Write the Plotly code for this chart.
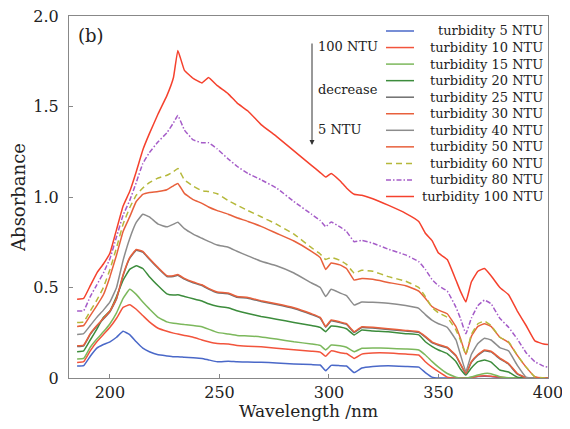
import plotly.graph_objects as go

wavelength = [185, 188, 191, 194, 197, 200, 203, 206, 209, 212, 215, 218, 222, 226, 229, 231,
              234, 238, 242, 245, 249, 254, 258, 263, 269, 276, 284, 292, 296, 298.5, 301, 305,
              308, 311.5, 315, 320, 327, 335, 341, 344, 347, 350, 354, 358, 360, 362.5, 365, 368,
              371, 374, 378, 382, 386, 390, 394, 398, 400]

ntu5 = [0.066, 0.068, 0.12, 0.165, 0.185, 0.20, 0.225, 0.258, 0.24, 0.20, 0.165, 0.145, 0.128, 0.122, 0.118, 0.118,
        0.115, 0.112, 0.108, 0.10, 0.09, 0.093, 0.09, 0.088, 0.087, 0.083, 0.078, 0.074, 0.072, 0.04, 0.07, 0.068,
        0.066, 0.03, 0.055, 0.064, 0.068, 0.064, 0.06, 0.03, 0.005, 0.0, 0.0, 0.0, 0.0, 0.0, 0.003, 0.008,
        0.01, 0.008, 0.002, 0.0, 0.0, 0.0, 0.0, 0.0, 0.0]
ntu10 = [0.085, 0.09, 0.15, 0.20, 0.24, 0.28, 0.33, 0.39, 0.405, 0.38, 0.345, 0.31, 0.275, 0.258, 0.248, 0.243,
         0.235, 0.225, 0.21, 0.20, 0.19, 0.188, 0.18, 0.176, 0.172, 0.165, 0.156, 0.148, 0.143, 0.12, 0.15, 0.14,
         0.135, 0.108, 0.132, 0.138, 0.138, 0.132, 0.127, 0.09, 0.06, 0.035, 0.005, 0.0, 0.0, 0.0, 0.003, 0.01,
         0.012, 0.01, 0.005, 0.0, 0.0, 0.0, 0.0, 0.0, 0.0]
ntu15 = [0.105, 0.108, 0.17, 0.215, 0.255, 0.30, 0.36, 0.44, 0.49, 0.462, 0.42, 0.382, 0.335, 0.31, 0.302, 0.30,
         0.295, 0.29, 0.283, 0.27, 0.252, 0.243, 0.235, 0.232, 0.227, 0.215, 0.20, 0.188, 0.18, 0.155, 0.182, 0.178,
         0.17, 0.145, 0.164, 0.166, 0.164, 0.16, 0.155, 0.127, 0.092, 0.06, 0.025, 0.005, 0.0, 0.0, 0.006, 0.017,
         0.025, 0.024, 0.007, 0.002, 0.0, 0.0, 0.0, 0.0, 0.0]
ntu20 = [0.145, 0.15, 0.21, 0.27, 0.335, 0.37, 0.45, 0.54, 0.60, 0.62, 0.605, 0.56, 0.51, 0.465, 0.458, 0.46,
         0.45, 0.438, 0.425, 0.41, 0.396, 0.388, 0.372, 0.356, 0.34, 0.325, 0.307, 0.29, 0.28, 0.256, 0.287, 0.282,
         0.272, 0.238, 0.265, 0.26, 0.256, 0.245, 0.238, 0.20, 0.175, 0.155, 0.135, 0.09, 0.05, 0.017, 0.055, 0.09,
         0.10, 0.088, 0.044, 0.033, 0.005, 0.0, 0.0, 0.0, 0.0]
ntu25 = [0.174, 0.178, 0.241, 0.286, 0.326, 0.366, 0.436, 0.566, 0.661, 0.706, 0.696, 0.656, 0.606, 0.561, 0.561, 0.568,
         0.546, 0.526, 0.511, 0.491, 0.471, 0.466, 0.446, 0.441, 0.423, 0.406, 0.384, 0.351, 0.331, 0.281, 0.316, 0.306,
         0.296, 0.252, 0.279, 0.276, 0.268, 0.259, 0.252, 0.226, 0.196, 0.181, 0.166, 0.121, 0.076, 0.022, 0.086, 0.126,
         0.151, 0.144, 0.106, 0.076, 0.021, 0.0, 0.0, 0.0, 0.0]
ntu30 = [0.178, 0.182, 0.245, 0.29, 0.33, 0.37, 0.44, 0.57, 0.665, 0.71, 0.70, 0.66, 0.61, 0.565, 0.565, 0.572,
         0.55, 0.53, 0.515, 0.495, 0.475, 0.47, 0.45, 0.445, 0.427, 0.41, 0.388, 0.355, 0.335, 0.285, 0.32, 0.31,
         0.30, 0.256, 0.283, 0.28, 0.272, 0.263, 0.256, 0.23, 0.20, 0.185, 0.17, 0.125, 0.08, 0.026, 0.09, 0.13,
         0.155, 0.148, 0.11, 0.08, 0.025, 0.002, 0.0, 0.0, 0.0]
ntu40 = [0.241, 0.245, 0.29, 0.335, 0.375, 0.42, 0.50, 0.65, 0.77, 0.86, 0.905, 0.89, 0.85, 0.835, 0.85, 0.86,
         0.825, 0.795, 0.772, 0.755, 0.735, 0.722, 0.70, 0.675, 0.645, 0.62, 0.58, 0.525, 0.50, 0.45, 0.49, 0.47,
         0.455, 0.403, 0.42, 0.418, 0.413, 0.40, 0.385, 0.35, 0.32, 0.30, 0.28, 0.21, 0.13, 0.035, 0.13, 0.19,
         0.22, 0.21, 0.168, 0.15, 0.07, 0.005, 0.0, 0.0, 0.0]
ntu50 = [0.285, 0.29, 0.345, 0.40, 0.46, 0.56, 0.68, 0.81, 0.89, 0.975, 1.015, 1.025, 1.03, 1.04, 1.062, 1.075,
         1.02, 0.985, 0.965, 0.945, 0.925, 0.905, 0.885, 0.865, 0.838, 0.80, 0.757, 0.70, 0.665, 0.60, 0.635, 0.625,
         0.605, 0.541, 0.55, 0.545, 0.528, 0.51, 0.48, 0.44, 0.395, 0.375, 0.355, 0.283, 0.22, 0.13, 0.23, 0.285,
         0.30, 0.285, 0.225, 0.196, 0.125, 0.06, 0.007, 0.0, 0.0]
ntu60 = [0.306, 0.31, 0.37, 0.43, 0.50, 0.60, 0.72, 0.85, 0.94, 1.01, 1.05, 1.08, 1.105, 1.12, 1.14, 1.158,
         1.095, 1.06, 1.035, 1.03, 1.018, 0.98, 0.955, 0.925, 0.891, 0.85, 0.795, 0.72, 0.685, 0.655, 0.666, 0.65,
         0.628, 0.58, 0.595, 0.59, 0.56, 0.535, 0.50, 0.45, 0.39, 0.36, 0.335, 0.265, 0.21, 0.13, 0.24, 0.30,
         0.315, 0.29, 0.225, 0.20, 0.125, 0.06, 0.007, 0.0, 0.0]
ntu80 = [0.37, 0.372, 0.45, 0.515, 0.58, 0.66, 0.78, 0.90, 0.98, 1.08, 1.185, 1.245, 1.305, 1.355, 1.41, 1.45,
         1.37, 1.315, 1.30, 1.30, 1.265, 1.21, 1.17, 1.13, 1.095, 1.05, 0.975, 0.905, 0.87, 0.836, 0.862, 0.835,
         0.81, 0.753, 0.76, 0.745, 0.712, 0.68, 0.643, 0.60, 0.545, 0.51, 0.48, 0.39, 0.33, 0.245, 0.33, 0.40,
         0.43, 0.41, 0.33, 0.28, 0.215, 0.14, 0.09, 0.065, 0.06]
ntu100 = [0.435, 0.44, 0.51, 0.58, 0.63, 0.69, 0.82, 0.95, 1.03, 1.14, 1.26, 1.35, 1.46, 1.56, 1.66, 1.81,
          1.70, 1.655, 1.63, 1.66, 1.615, 1.57, 1.52, 1.475, 1.40, 1.335, 1.255, 1.175, 1.135, 1.11, 1.13, 1.09,
          1.05, 1.015, 1.01, 0.99, 0.955, 0.91, 0.865, 0.80, 0.76, 0.69, 0.655, 0.54, 0.48, 0.42, 0.53, 0.59,
          0.605, 0.565, 0.50, 0.46, 0.37, 0.29, 0.205, 0.188, 0.185]

series_names = ["turbidity 5 NTU", "turbidity 10 NTU", "turbidity 15 NTU", "turbidity 20 NTU",
                "turbidity 25 NTU", "turbidity 30 NTU", "turbidity 40 NTU", "turbidity 50 NTU",
                "turbidity 60 NTU", "turbidity 80 NTU", "turbidity 100 NTU"]
series_values = [ntu5, ntu10, ntu15, ntu20, ntu25, ntu30, ntu40, ntu50, ntu60, ntu80, ntu100]
series_colors = ["#4a68c8", "#f2543c", "#7cb85c", "#3c8c3c", "#6e6e6e", "#e8603c",
                 "#8c8c8c", "#e8603c", "#b5b83a", "#a55cc8", "#f5412d"]
series_dash = ["solid", "solid", "solid", "solid", "solid", "solid", "solid", "solid",
               "6px,4px", "5px,2px,1.5px,2px", "solid"]

x_ticks = [200, 250, 300, 350, 400]
y_ticks = [0, 0.5, 1.0, 1.5, 2.0]
y_ticktext = ["0", "0.5", "1.0", "1.5", "2.0"]

FONT = "DejaVu Serif"

fig = go.Figure()
for name, vals, col, dash in zip(series_names, series_values, series_colors, series_dash):
    fig.add_trace(go.Scatter(x=wavelength, y=vals, mode="lines", name=name,
                             line=dict(color=col, width=1.5, dash=dash, shape="spline", smoothing=0.3),
                             showlegend=False))

# page has an 8px body margin: figure is 554x413 placed at (8, 8)
OFF = 8
FW, FH = 570 - 2 * OFF, 429 - 2 * OFF
# plot area in page pixels
L, R, T, B = 69, 548, 16, 378
W, H = R - L, B - T
def px(xp):
    return (xp - L) / W
def py(yp):
    return (B - yp) / H

row0, pitch = 31.0, 16.55
for i, (name, col, dash) in enumerate(zip(series_names, series_colors, series_dash)):
    yy = py(row0 + i * pitch)
    fig.add_shape(type="line", xref="paper", yref="paper", x0=px(386), x1=px(414), y0=yy, y1=yy,
                  line=dict(color=col, width=1.5, dash=dash))
    fig.add_annotation(xref="paper", yref="paper", x=px(545), y=yy, text=name, showarrow=False,
                       xanchor="right", yanchor="middle", font=dict(family=FONT, size=13, color="#222"))

# arrow and labels
fig.add_annotation(xref="paper", yref="paper", x=px(312), y=py(145), ax=0, ay=-103,
                   text="", showarrow=True, arrowhead=2, arrowsize=1, arrowwidth=1, arrowcolor="#333")
for txt, yp in [("100 NTU", 47), ("decrease", 89), ("5 NTU", 129)]:
    fig.add_annotation(xref="paper", yref="paper", x=px(316), y=py(yp), text=txt, showarrow=False,
                       xanchor="left", yanchor="middle", font=dict(family=FONT, size=13, color="#222"))
fig.add_annotation(xref="paper", yref="paper", x=px(76), y=py(36), text="(b)", showarrow=False,
                   xanchor="left", yanchor="middle", font=dict(family=FONT, size=18, color="#222"))

fig.update_layout(
    width=FW, height=FH,
    margin=dict(l=L - OFF, r=(OFF + FW) - R, t=T - OFF, b=(OFF + FH) - B, autoexpand=False),
    paper_bgcolor="white", plot_bgcolor="white",
    font=dict(family=FONT, size=16, color="#222"),
)
fig.update_xaxes(range=[181.3, 400], tickvals=x_ticks, ticks="inside", ticklen=4, tickcolor="#888",
                 showline=True, mirror=True, linecolor="#888", linewidth=1, showgrid=False, zeroline=False,
                 automargin=False, ticklabeloverflow="allow",
                 tickfont=dict(family=FONT, size=16, color="#222"),
                 title=dict(text="Wavelength /nm", font=dict(family=FONT, size=17, color="#222"), standoff=2))
fig.update_yaxes(range=[0, 2.0], tickvals=y_ticks, ticktext=y_ticktext, ticks="inside", ticklen=4,
                 tickcolor="#888", showline=True, mirror=True, linecolor="#888", linewidth=1,
                 showgrid=False, zeroline=False, ticklabelstandoff=6, automargin=False,
                 ticklabeloverflow="allow",
                 tickfont=dict(family=FONT, size=16, color="#222"),
                 title=dict(text="Absorbance", font=dict(family=FONT, size=18, color="#222"), standoff=6))

fig.write_html("out.html")
